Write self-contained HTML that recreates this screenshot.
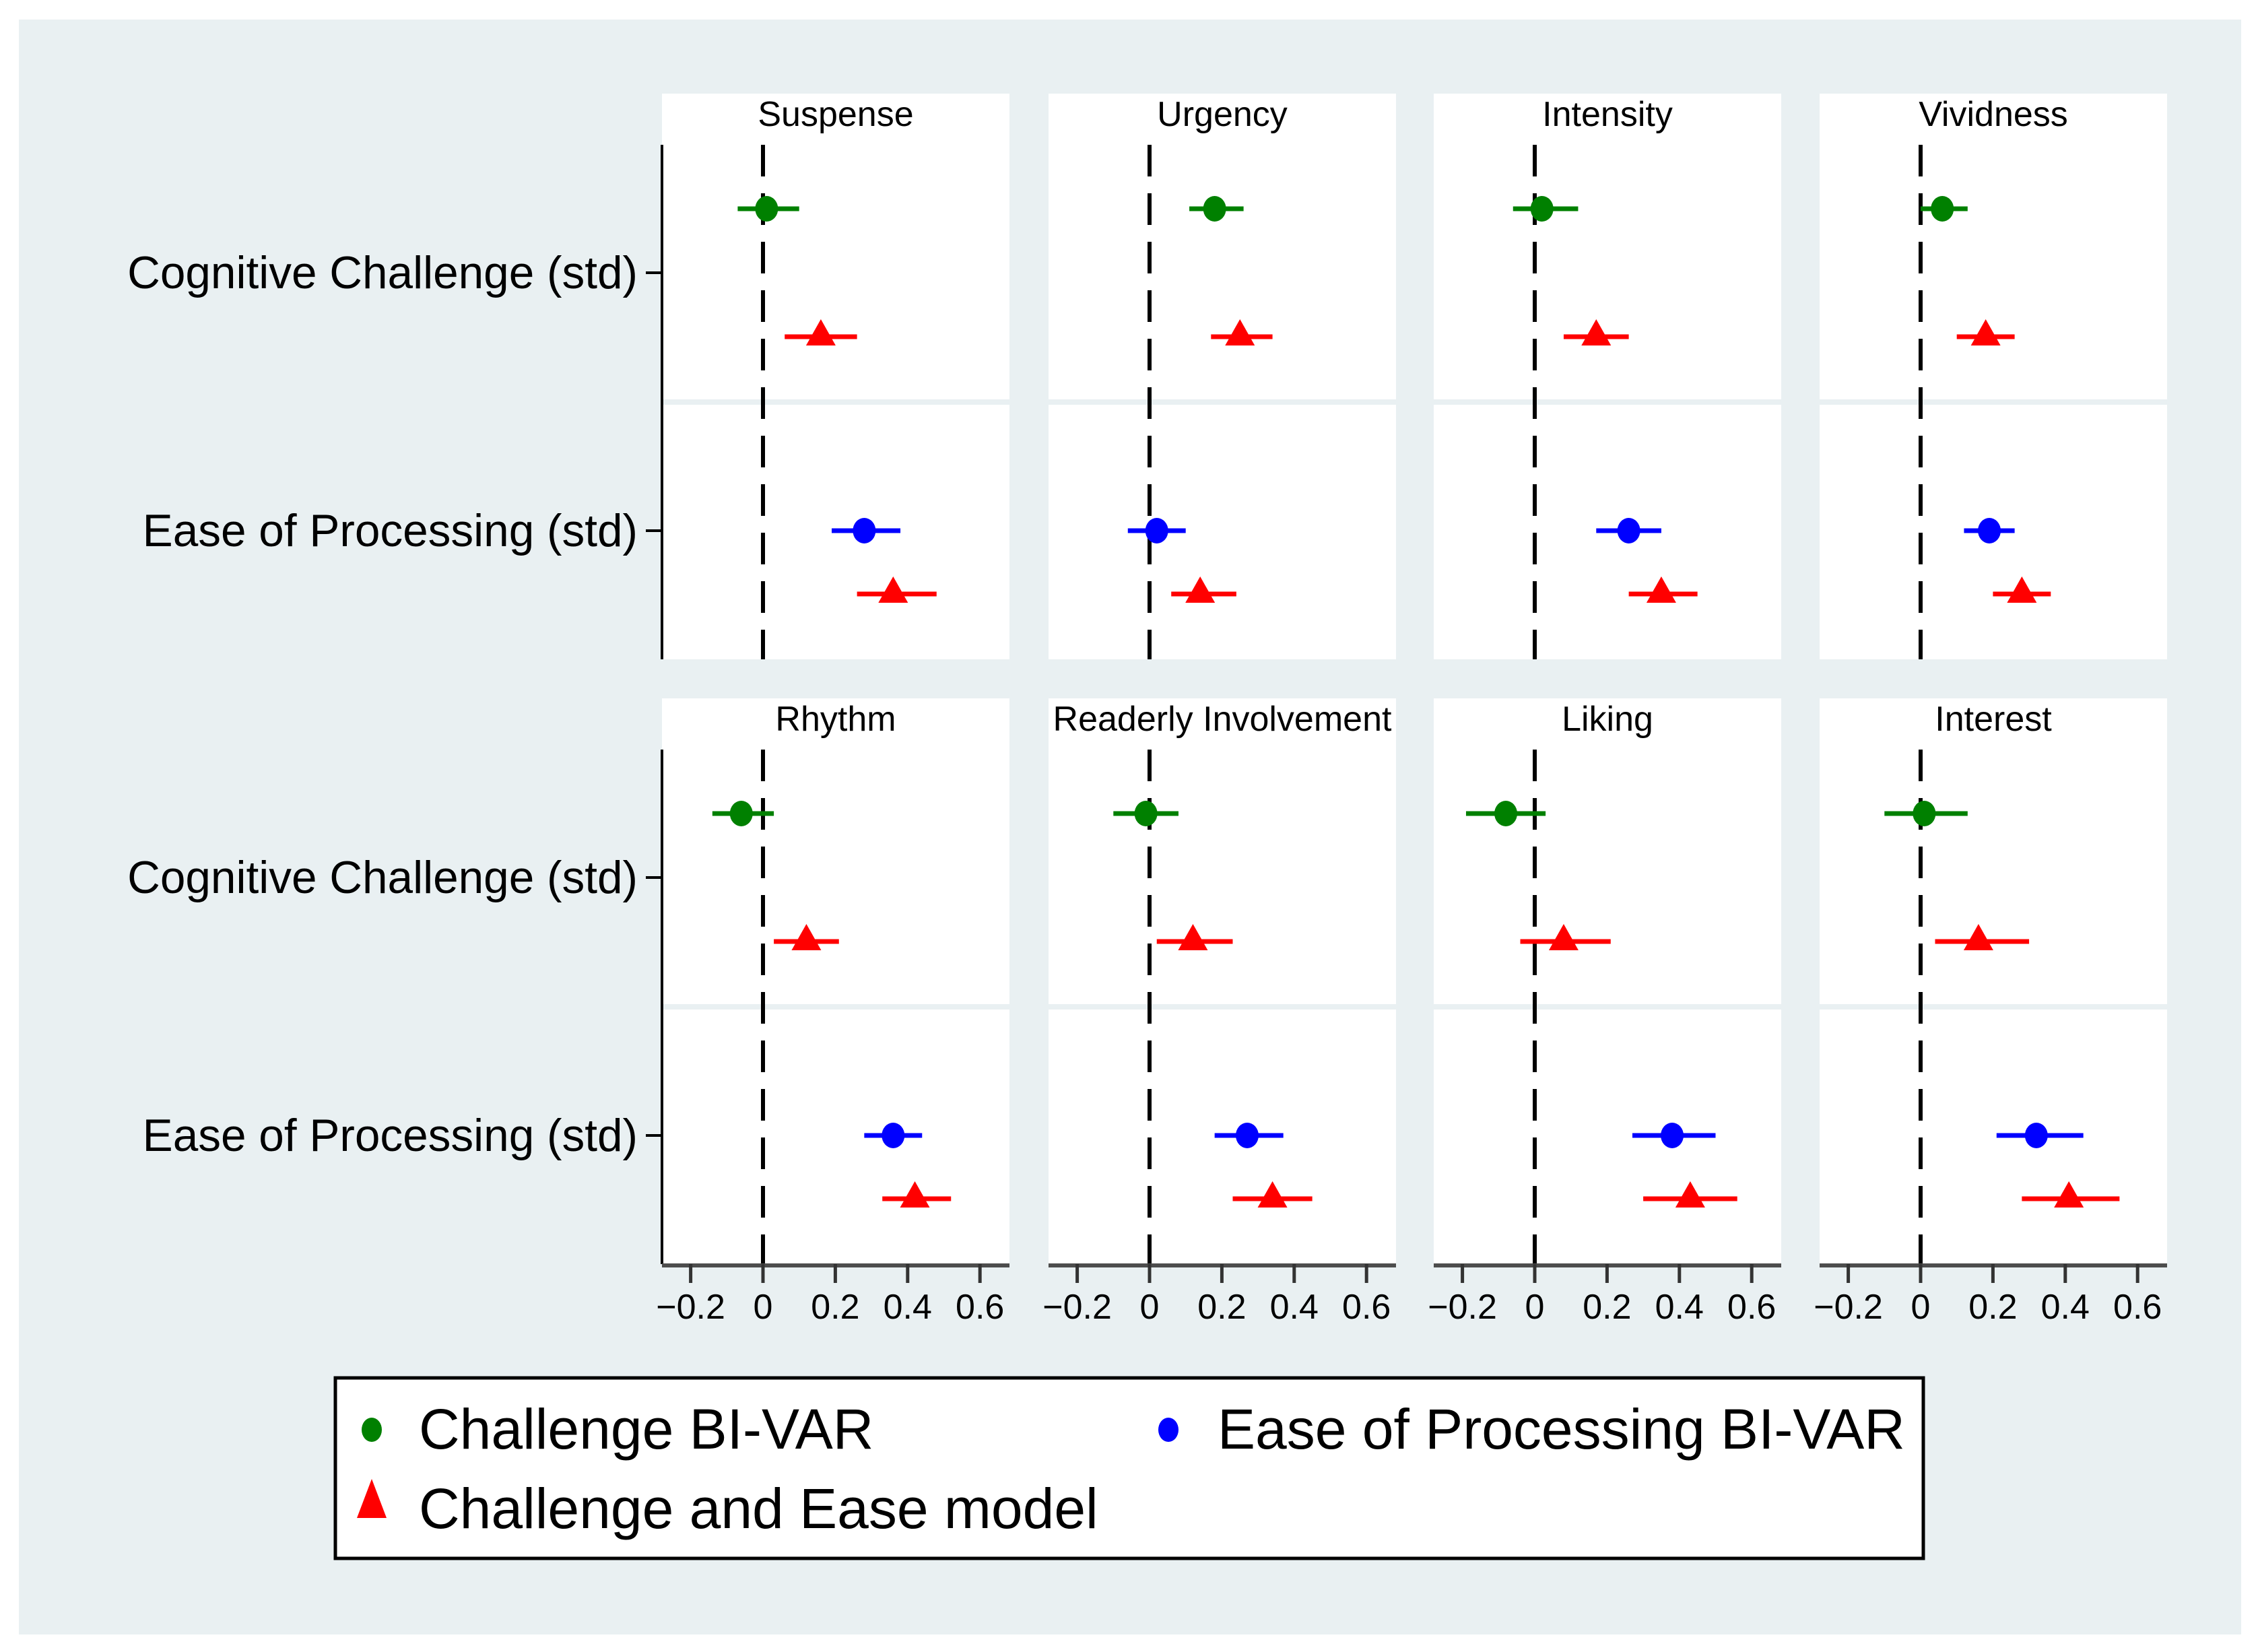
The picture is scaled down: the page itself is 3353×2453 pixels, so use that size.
<!DOCTYPE html>
<html><head><meta charset="utf-8"><style>
html,body{margin:0;padding:0;background:#fff;}
svg{display:block;}
text{font-family:"Liberation Sans",Arial,sans-serif;fill:#000;}
</style></head>
<body>
<svg id="chart" width="3353" height="2453" viewBox="0 0 3353 2453" xmlns="http://www.w3.org/2000/svg">
<rect x="28" y="29" width="3300" height="2398" fill="#e9f0f2"/>
<g id="panels"></g>
<g id="legend">
<rect x="498" y="2046" width="2358" height="268" fill="#fff" stroke="#000" stroke-width="5"/>
<g>
<ellipse cx="552" cy="2123" rx="15" ry="18" fill="#008000"/>
<text x="622" y="2151" font-size="84">Challenge BI-VAR</text>
</g>
<g>
<ellipse cx="1735" cy="2123" rx="15" ry="18" fill="#0000ff"/>
<text x="1808" y="2151" font-size="84">Ease of Processing BI-VAR</text>
</g>
<g>
<polygon points="552,2196 574,2254 530,2254" fill="#ff0000"/>
<text x="622" y="2269" font-size="84">Challenge and Ease model</text>
</g>
</g>
</svg>
<script>
const panelTitles = ["Suspense","Urgency","Intensity","Vividness","Rhythm","Readerly Involvement","Liking","Interest"];
const rowLabels = ["Cognitive Challenge (std)","Ease of Processing (std)"];
const xTicks = [-0.2,0,0.2,0.4,0.6];
const xTickLabels = ["\u22120.2","0","0.2","0.4","0.6"];
// Challenge BI-VAR (green): estimate, lo, hi
const challengeEst = [0.01,0.18,0.02,0.06,-0.06,-0.01,-0.08,0.01];
const challengeLo  = [-0.07,0.11,-0.06,0.00,-0.14,-0.10,-0.19,-0.10];
const challengeHi  = [0.10,0.26,0.12,0.13,0.03,0.08,0.03,0.13];
// Combined model, challenge coefficient (red, upper)
const modelChalEst = [0.16,0.25,0.17,0.18,0.12,0.12,0.08,0.16];
const modelChalLo  = [0.06,0.17,0.08,0.10,0.03,0.02,-0.04,0.04];
const modelChalHi  = [0.26,0.34,0.26,0.26,0.21,0.23,0.21,0.30];
// Ease of Processing BI-VAR (blue)
const easeEst = [0.28,0.02,0.26,0.19,0.36,0.27,0.38,0.32];
const easeLo  = [0.19,-0.06,0.17,0.12,0.28,0.18,0.27,0.21];
const easeHi  = [0.38,0.10,0.35,0.26,0.44,0.37,0.50,0.45];
// Combined model, ease coefficient (red, lower)
const modelEaseEst = [0.36,0.14,0.35,0.28,0.42,0.34,0.43,0.41];
const modelEaseLo  = [0.26,0.06,0.26,0.20,0.33,0.23,0.30,0.28];
const modelEaseHi  = [0.48,0.24,0.45,0.36,0.52,0.45,0.56,0.55];

const NS="http://www.w3.org/2000/svg";
const g=document.getElementById('panels');
const panelX=[983,1557,2129,2702], panelY=[139,1037];
const PW=516, PH=840, zeroOff=150, unit=537;
function mk(tag,attrs,parent){const e=document.createElementNS(NS,tag);for(const k in attrs)e.setAttribute(k,attrs[k]);(parent||g).appendChild(e);return e;}
function xs(px,v){return px+zeroOff+v*unit;}
const yOff={green:171,red1:361,cc:266,div:458,blue:649,red2:743,axisTop:76};

for(let i=0;i<8;i++){
  const col=i%4,row=Math.floor(i/4);
  const px=panelX[col],py=panelY[row];
  const pg=mk('g',{});
  
  
  const bg=mk('rect',{x:px,y:py,width:PW,height:PH,fill:'#fff'},pg);
  
  
  const dv=mk('rect',{x:px,y:py+yOff.div-4,width:PW,height:8,fill:'#e9f0f2'},pg);
  
  
  const t=mk('text',{x:px+PW/2,y:py+48,'font-size':52,'text-anchor':'middle'},pg);
  t.textContent=panelTitles[i];
  
  
  const zl=mk('line',{x1:xs(px,0),x2:xs(px,0),y1:py+yOff.axisTop,y2:py+PH,stroke:'#000','stroke-width':6,'stroke-dasharray':'47 25'},pg);
  
  
  const series=[
    [challengeEst,challengeLo,challengeHi,yOff.green,'#008000','circle','challenge-bivar'],
    [modelChalEst,modelChalLo,modelChalHi,yOff.red1,'#ff0000','tri','model-challenge'],
    [easeEst,easeLo,easeHi,yOff.blue,'#0000ff','circle','ease-bivar'],
    [modelEaseEst,modelEaseLo,modelEaseHi,yOff.red2,'#ff0000','tri','model-ease']];
  for(const s of series){
    const y=py+s[3];
    const ci=mk('line',{x1:xs(px,s[1][i]),x2:xs(px,s[2][i]),y1:y,y2:y,stroke:s[4],'stroke-width':7},pg);
    
    
    const cx=xs(px,s[0][i]);
    let m;
    if(s[5]==='circle') m=mk('ellipse',{cx:cx,cy:y,rx:17,ry:19,fill:s[4]},pg);
    else m=mk('polygon',{points:`${cx},${y-26} ${cx+22},${y+13} ${cx-22},${y+13}`,fill:s[4]},pg);
    
    
  }
  if(col===0){
    const ya=mk('line',{x1:px,x2:px,y1:py+yOff.axisTop,y2:py+PH,stroke:'#000','stroke-width':4},pg);
    
    
    [[yOff.cc,0],[yOff.blue,1]].forEach(([o,k])=>{
      const tk=mk('line',{x1:px-24,x2:px,y1:py+o,y2:py+o,stroke:'#000','stroke-width':4},pg);
      
      
      const lb=mk('text',{x:px-36,y:py+o+23,'font-size':67.5,'text-anchor':'end'},pg);
      lb.textContent=rowLabels[k];
      
      
    });
  }
  if(row===1){
    const xa=mk('line',{x1:px,x2:px+PW,y1:py+PH+2,y2:py+PH+2,stroke:'#4d4d4d','stroke-width':6},pg);
    
    
    xTicks.forEach((v,k)=>{
      const tk=mk('line',{x1:xs(px,v),x2:xs(px,v),y1:py+PH,y2:py+PH+28,stroke:'#333','stroke-width':5},pg);
      
      
      const lb=mk('text',{x:xs(px,v),y:py+PH+81,'font-size':52,'text-anchor':'middle'},pg);
      lb.textContent=xTickLabels[k];
      
      
    });
  }
}
</script>
</body></html>
